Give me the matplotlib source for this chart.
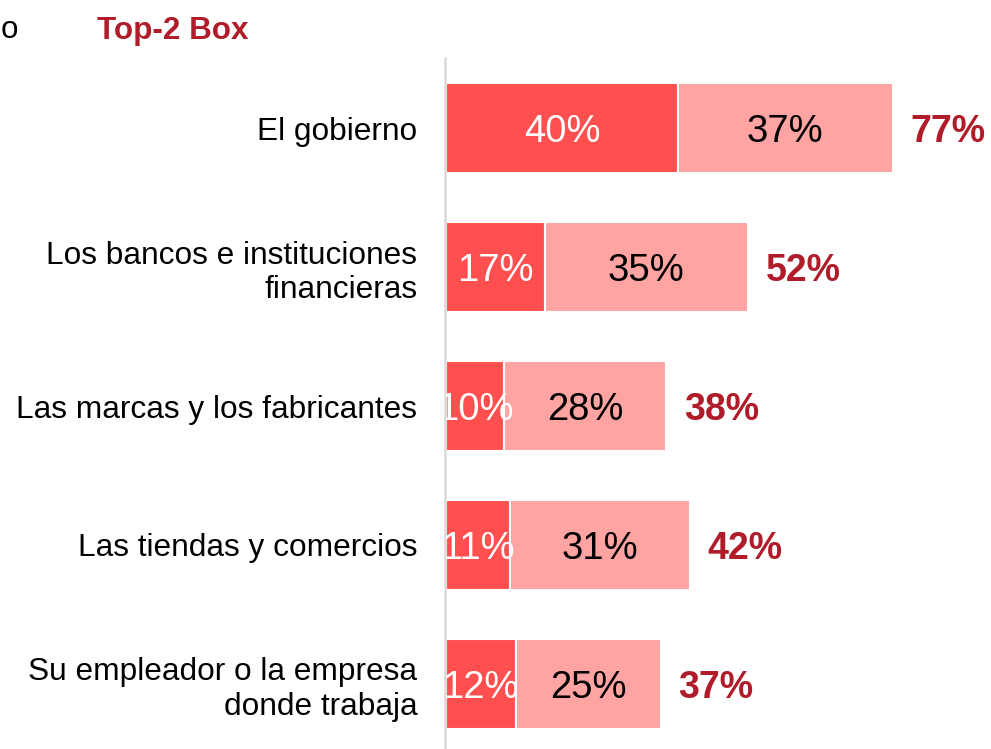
import matplotlib
matplotlib.use("Agg")
import matplotlib.pyplot as plt

plt.rcParams['font.family'] = ['Liberation Sans', 'DejaVu Sans']

categories = ["El gobierno",
              "Los bancos e instituciones\nfinancieras",
              "Las marcas y los fabricantes",
              "Las tiendas y comercios",
              "Su empleador o la empresa\ndonde trabaja"]
top1 = [40, 17, 10, 11, 12]
top2 = [37, 35, 28, 31, 25]
totals = [77, 52, 38, 42, 37]

c_dark = "#FF4F4F"
c_light = "#FFA3A3"
c_total = "#B01C2A"

W, H = 991, 749
fig = plt.figure(figsize=(W/100, H/100), dpi=100)
ax = fig.add_axes([446/W, 0, 545/W, (749-58)/H])

ypos = list(range(len(categories)))
ax.barh(ypos, top1, height=0.65, color=c_dark, edgecolor="white", linewidth=1.5)
ax.barh(ypos, top2, left=top1, height=0.65, color=c_light, edgecolor="white", linewidth=1.5)

fs = 27.5
for y, a, b, t in zip(ypos, top1, top2, totals):
    ax.text(a/2, y, f"{a}%", ha="center", va="center_baseline", color="white", fontsize=fs, clip_on=True)
    ax.text(a + b/2, y, f"{b}%", ha="center", va="center_baseline", color="black", fontsize=fs)
    ax.text(t + 3.1, y, f"{t}%", ha="left", va="center_baseline", color=c_total, fontsize=27, fontweight="bold")

ax.set_xlim(0, 545/5.8)
ax.set_ylim(4.468, -0.504)
ax.tick_params(axis="y", length=0, pad=20, labelsize=22.8)
ax.set_yticks(ypos)
ax.set_yticklabels(categories, fontsize=22.8, linespacing=1.3)
ax.set_xticks([])
for s in ["top", "right", "bottom"]:
    ax.spines[s].set_visible(False)
ax.spines["left"].set_color("#D9D9D9")
ax.spines["left"].set_linewidth(1.8)
ax.spines["left"].set_position(("data", -0.15))

fig.text(97/W, 1 - 27/H, "Top-2 Box", ha="left", va="center_baseline", color=c_total, fontsize=22.6, fontweight="bold")
fig.text(1/W, 1 - 27/H, "o", ha="left", va="center_baseline", color="black", fontsize=22.6)

fig.savefig("out.png", dpi=100)
